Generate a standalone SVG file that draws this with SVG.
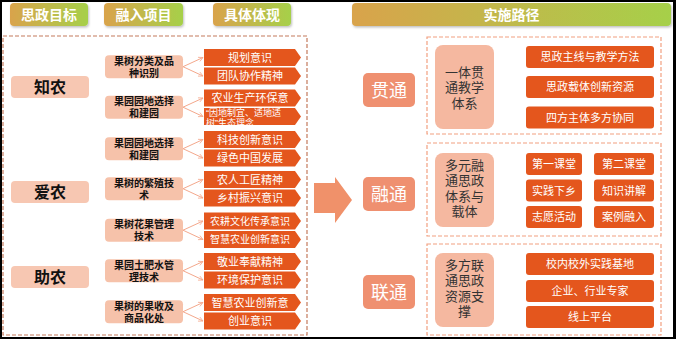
<svg xmlns="http://www.w3.org/2000/svg" width="676" height="339" viewBox="0 0 676 339">
<defs>
<linearGradient id="hg" x1="0" y1="0" x2="1" y2="0">
<stop offset="0" stop-color="#d9a34c"/>
<stop offset="1" stop-color="#a6d04a"/>
</linearGradient>
<marker id="ah" viewBox="0 0 8 8" refX="7" refY="4" markerWidth="6" markerHeight="6" orient="auto" markerUnits="userSpaceOnUse">
<path d="M1,1 L7,4 L1,7" fill="none" stroke="#f4a88c" stroke-width="1"/>
</marker>
<filter id="sh" x="-10%" y="-20%" width="120%" height="150%">
<feDropShadow dx="1" dy="1.5" stdDeviation="1" flood-color="#000" flood-opacity="0.25"/>
</filter>
</defs>
<style>
text{font-family:"Liberation Sans","Noto Sans CJK SC",sans-serif;text-anchor:middle}
.hdr{fill:url(#hg);filter:url(#sh)}
.ht{fill:#fff;font-size:14px;font-weight:bold}
.tgt{fill:#f7c7b2}
.tt{fill:#111;font-size:16px;font-weight:bold}
.prj{fill:#f6c2aa}
.pt{fill:#111;font-size:10px;font-weight:bold}
.itm{fill:#e4561d}
.it{fill:#fff;font-size:11px}
.it2{fill:#fff;font-size:10px}
.it3{fill:#fff;font-size:9px;text-anchor:start}
.con{stroke:#f4a88c;stroke-width:1;fill:none}
.dl{fill:none;stroke:#c47a5c;stroke-width:1.2;stroke-dasharray:4,2}
.dr{fill:none;stroke:#f2a080;stroke-width:1.2;stroke-dasharray:4,2}
.lab{fill:#ef9070}
.lt{fill:#fff;font-size:18px}
.mid{fill:#f5b8a0}
.mt{fill:#333;font-size:13px}
.ri{fill:#e4561d}
.rt{fill:#fff;font-size:11px}
</style>
<rect x="0" y="0" width="676" height="339" fill="#000"/>
<rect x="2" y="2" width="671" height="335" fill="#fff"/>

<g id="headers">
<g id="h1"><rect class="hdr" x="10" y="3" width="78" height="23" rx="4"/><text class="ht" x="49" y="20">思政目标</text></g>
<g id="h2"><rect class="hdr" x="104" y="3" width="79" height="23" rx="4"/><text class="ht" x="143.5" y="20">融入项目</text></g>
<g id="h3"><rect class="hdr" x="213" y="3" width="78" height="23" rx="4"/><text class="ht" x="252" y="20">具体体现</text></g>
<g id="h4"><rect class="hdr" x="352" y="3" width="319" height="23" rx="4"/><text class="ht" x="511.5" y="20">实施路径</text></g>
</g>

<rect class="dl" x="3" y="36" width="304" height="299"/>

<g id="targets">
<g id="t1"><rect class="tgt" x="11" y="76" width="78" height="22" rx="4"/><text class="tt" x="50" y="93">知农</text></g>
<g id="t2"><rect class="tgt" x="11" y="181" width="78" height="22" rx="4"/><text class="tt" x="50" y="198">爱农</text></g>
<g id="t3"><rect class="tgt" x="11" y="266" width="78" height="22" rx="4"/><text class="tt" x="50" y="283">助农</text></g>
</g>

<g id="projects">
<g id="p1"><rect class="prj" x="105" y="55.2" width="78" height="23" rx="4"/><text class="pt" x="144" y="64.7">果树分类及品</text><text class="pt" x="144" y="76.7">种识别</text></g>
<g id="p2"><rect class="prj" x="105" y="95.7" width="78" height="23" rx="4"/><text class="pt" x="144" y="105.2">果园园地选择</text><text class="pt" x="144" y="117.2">和建园</text></g>
<g id="p3"><rect class="prj" x="105" y="137.2" width="78" height="23" rx="4"/><text class="pt" x="144" y="146.7">果园园地选择</text><text class="pt" x="144" y="158.7">和建园</text></g>
<g id="p4"><rect class="prj" x="105" y="177.2" width="78" height="23" rx="4"/><text class="pt" x="144" y="186.7">果树的繁殖技</text><text class="pt" x="144" y="198.7">术</text></g>
<g id="p5"><rect class="prj" x="105" y="218.7" width="78" height="23" rx="4"/><text class="pt" x="144" y="228.2">果树花果管理</text><text class="pt" x="144" y="240.2">技术</text></g>
<g id="p6"><rect class="prj" x="105" y="259.2" width="78" height="23" rx="4"/><text class="pt" x="144" y="268.7">果园土肥水管</text><text class="pt" x="144" y="280.7">理技术</text></g>
<g id="p7"><rect class="prj" x="105" y="300.2" width="78" height="23" rx="4"/><text class="pt" x="144" y="309.7">果树的果收及</text><text class="pt" x="144" y="321.7">商品化处</text></g>
</g>

<g id="items">
<g id="i1"><polygon class="itm" points="204,49 295,49 301,57.5 295,66 204,66"/><text class="it" x="250" y="61.5">规划意识</text></g>
<g id="i2"><polygon class="itm" points="204,67.5 295,67.5 301,76 295,84.5 204,84.5"/><text class="it" x="250" y="80">团队协作精神</text></g>
<g id="i3"><polygon class="itm" points="204,89.5 295,89.5 301,98 295,106.5 204,106.5"/><text class="it" x="250" y="102">农业生产环保意</text></g>
<g id="i4"><polygon class="itm" points="204,108 295,108 301,116.5 295,125 204,125"/><text class="it3" x="206" y="115.5">“因地制宜、适地适</text><text class="it3" x="206" y="126">树”生态理念</text></g>
<g id="i5"><polygon class="itm" points="204,131 295,131 301,139.5 295,148 204,148"/><text class="it" x="250" y="143.5">科技创新意识</text></g>
<g id="i6"><polygon class="itm" points="204,149.5 295,149.5 301,158 295,166.5 204,166.5"/><text class="it" x="250" y="162">绿色中国发展</text></g>
<g id="i7"><polygon class="itm" points="204,171 295,171 301,179.5 295,188 204,188"/><text class="it" x="250" y="183.5">农人工匠精神</text></g>
<g id="i8"><polygon class="itm" points="204,189.5 295,189.5 301,198 295,206.5 204,206.5"/><text class="it" x="250" y="202">乡村振兴意识</text></g>
<g id="i9"><polygon class="itm" points="204,212.5 295,212.5 301,221 295,229.5 204,229.5"/><text class="it2" x="250" y="224.5">农耕文化传承意识</text></g>
<g id="i10"><polygon class="itm" points="204,231 295,231 301,239.5 295,248 204,248"/><text class="it2" x="250" y="243">智慧农业创新意识</text></g>
<g id="i11"><polygon class="itm" points="204,253 295,253 301,261.5 295,270 204,270"/><text class="it" x="250" y="265.5">敬业奉献精神</text></g>
<g id="i12"><polygon class="itm" points="204,271.5 295,271.5 301,280 295,288.5 204,288.5"/><text class="it" x="250" y="284">环境保护意识</text></g>
<g id="i13"><polygon class="itm" points="204,294 295,294 301,302.5 295,311 204,311"/><text class="it" x="250" y="306.5">智慧农业创新意</text></g>
<g id="i14"><polygon class="itm" points="204,312.5 295,312.5 301,321 295,329.5 204,329.5"/><text class="it" x="250" y="325">创业意识</text></g>
</g>

<g id="connectors">
<path class="con" marker-end="url(#ah)" d="M183,66.7 L203,57.5"/>
<path class="con" marker-end="url(#ah)" d="M183,66.7 L203,76"/>
<path class="con" marker-end="url(#ah)" d="M183,107.2 L203,98"/>
<path class="con" marker-end="url(#ah)" d="M183,107.2 L203,116.5"/>
<path class="con" marker-end="url(#ah)" d="M183,148.7 L203,139.5"/>
<path class="con" marker-end="url(#ah)" d="M183,148.7 L203,158"/>
<path class="con" marker-end="url(#ah)" d="M183,188.7 L203,179.5"/>
<path class="con" marker-end="url(#ah)" d="M183,188.7 L203,198"/>
<path class="con" marker-end="url(#ah)" d="M183,230.2 L203,221"/>
<path class="con" marker-end="url(#ah)" d="M183,230.2 L203,239.5"/>
<path class="con" marker-end="url(#ah)" d="M183,270.7 L203,261.5"/>
<path class="con" marker-end="url(#ah)" d="M183,270.7 L203,280"/>
<path class="con" marker-end="url(#ah)" d="M183,311.7 L203,302.5"/>
<path class="con" marker-end="url(#ah)" d="M183,311.7 L203,321"/>
<polygon id="bigArrow" points="314,183 335,183 335,177 352,200 335,223 335,213 314,213" fill="#f0916a"/>
</g>

<rect class="dr" x="427" y="37" width="234" height="97"/>
<rect class="dr" x="427" y="143" width="234" height="93"/>
<rect class="dr" x="427" y="244" width="234" height="91"/>

<g id="labels">
<g id="l1"><rect class="lab" x="363" y="73" width="52" height="34" rx="5"/><text class="lt" x="389" y="96.5">贯通</text></g>
<g id="l2"><rect class="lab" x="363" y="177" width="52" height="34" rx="5"/><text class="lt" x="389" y="200.5">融通</text></g>
<g id="l3"><rect class="lab" x="363" y="275" width="52" height="34" rx="5"/><text class="lt" x="389" y="298.5">联通</text></g>
</g>

<g id="middles">
<g id="m1"><rect class="mid" x="435" y="45" width="59" height="84" rx="8"/><text class="mt" x="464.5" y="76.5">一体贯</text><text class="mt" x="464.5" y="92">通教学</text><text class="mt" x="464.5" y="107.5">体系</text></g>
<g id="m2"><rect class="mid" x="435" y="153" width="59" height="74" rx="8"/><text class="mt" x="464.5" y="169.5">多元融</text><text class="mt" x="464.5" y="185">通思政</text><text class="mt" x="464.5" y="200.5">体系与</text><text class="mt" x="464.5" y="216">载体</text></g>
<g id="m3"><rect class="mid" x="435" y="253" width="59" height="74" rx="8"/><text class="mt" x="464.5" y="269.5">多方联</text><text class="mt" x="464.5" y="285">通思政</text><text class="mt" x="464.5" y="300.5">资源支</text><text class="mt" x="464.5" y="316">撑</text></g>
</g>

<g id="rightItems">
<g id="r1"><rect class="ri" x="526" y="46" width="128" height="22" rx="3"/><text class="rt" x="590" y="61">思政主线与教学方法</text></g>
<g id="r2"><rect class="ri" x="526" y="76" width="128" height="22" rx="3"/><text class="rt" x="590" y="91">思政载体创新资源</text></g>
<g id="r3"><rect class="ri" x="526" y="106.5" width="128" height="22" rx="3"/><text class="rt" x="590" y="121.5">四方主体多方协同</text></g>
<g id="r4"><rect class="ri" x="526" y="153" width="56" height="22" rx="3"/><text class="rt" x="554" y="168">第一课堂</text></g>
<g id="r5"><rect class="ri" x="594" y="153" width="60" height="22" rx="3"/><text class="rt" x="624" y="168">第二课堂</text></g>
<g id="r6"><rect class="ri" x="526" y="179.5" width="56" height="22" rx="3"/><text class="rt" x="554" y="194.5">实践下乡</text></g>
<g id="r7"><rect class="ri" x="594" y="179.5" width="60" height="22" rx="3"/><text class="rt" x="624" y="194.5">知识讲解</text></g>
<g id="r8"><rect class="ri" x="526" y="206" width="56" height="22" rx="3"/><text class="rt" x="554" y="221">志愿活动</text></g>
<g id="r9"><rect class="ri" x="594" y="206" width="60" height="22" rx="3"/><text class="rt" x="624" y="221">案例融入</text></g>
<g id="r10"><rect class="ri" x="526" y="253" width="128" height="22" rx="3"/><text class="rt" x="590" y="268">校内校外实践基地</text></g>
<g id="r11"><rect class="ri" x="526" y="280" width="128" height="22" rx="3"/><text class="rt" x="590" y="295">企业、行业专家</text></g>
<g id="r12"><rect class="ri" x="526" y="306" width="128" height="22" rx="3"/><text class="rt" x="590" y="321">线上平台</text></g>
</g>
</svg>
